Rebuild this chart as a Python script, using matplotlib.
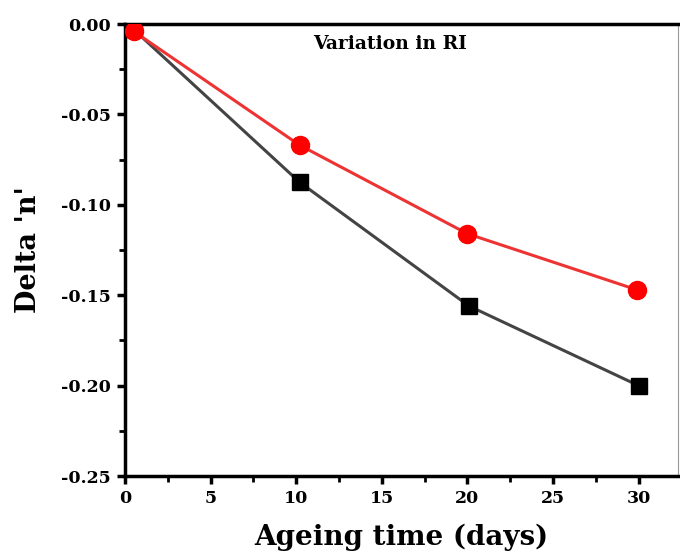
import numpy as np
import matplotlib.pyplot as plt
from matplotlib.ticker import MultipleLocator

days_a = [0.5, 10.2, 20.1, 30.0]
delta_a = [-0.003, -0.0875, -0.156, -0.200]
days_b = [0.5, 10.2, 20.0, 29.9]
delta_b = [-0.004, -0.067, -0.116, -0.147]

plt.rcParams['font.family'] = ['DejaVu Serif']
plt.rcParams['font.weight'] = 'bold'

fig = plt.figure(figsize=(6.8, 5.53), dpi=100)
ax = fig.add_axes([0.1838, 0.1392, 0.8132, 0.8174])

ax.plot(days_a, delta_a, color='#444444', lw=2.2, marker='s', ms=12,
        mfc='black', mec='black', zorder=3)
ax.plot(days_b, delta_b, color='#ee3333', lw=2.2, marker='o', ms=13,
        mfc='red', mec='red', zorder=4)

ax.set_xlim(0, 32.3)
ax.set_ylim(-0.25, 0.0)
ax.xaxis.set_major_locator(MultipleLocator(5))
ax.xaxis.set_minor_locator(MultipleLocator(2.5))
ax.yaxis.set_major_locator(MultipleLocator(0.05))
ax.yaxis.set_minor_locator(MultipleLocator(0.025))
ax.yaxis.set_major_formatter(plt.FuncFormatter(lambda v, p: '%.2f' % v))

for s in ['left', 'bottom', 'top']:
    ax.spines[s].set_linewidth(2.5)
    ax.spines[s].set_color('black')
ax.spines['right'].set_linewidth(0.8)
ax.spines['right'].set_color('#999999')

ax.tick_params(which='major', direction='out', length=6, width=2.5,
               labelsize=12.5, top=False, right=False, pad=4)
ax.tick_params(which='minor', direction='out', length=4, width=2,
               top=False, right=False)
for lab in ax.get_xticklabels() + ax.get_yticklabels():
    lab.set_fontweight('bold')

ax.set_xlabel('Ageing time (days)', fontsize=20, fontweight='bold', labelpad=12)
ax.set_ylabel("Delta 'n'", fontsize=19.5, fontweight='bold', labelpad=14)
ax.text(0.34, 0.955, 'Variation in RI', transform=ax.transAxes,
        fontsize=13.5, fontweight='bold', va='center')

fig.savefig('out.png', dpi=100)
